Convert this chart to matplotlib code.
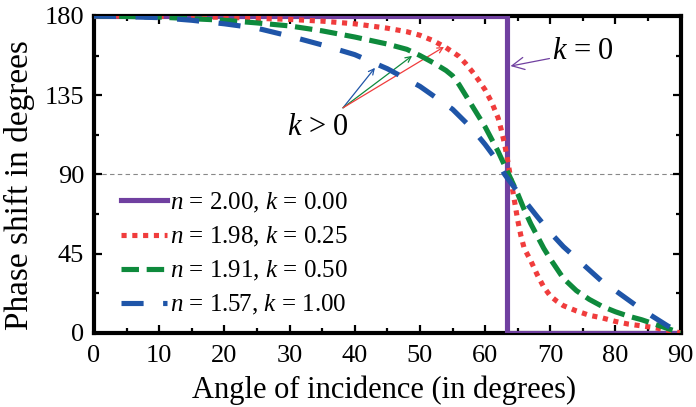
import matplotlib
matplotlib.use('Agg')
import matplotlib.pyplot as plt
from matplotlib.ticker import MultipleLocator

plt.rcParams['font.family'] = 'Liberation Serif'
plt.rcParams['mathtext.fontset'] = 'custom'
plt.rcParams['mathtext.rm'] = 'Liberation Serif'
plt.rcParams['mathtext.it'] = 'Liberation Serif:italic'

# values
ang_k0 = [0, 63.43, 63.43, 90]
ph_k0 = [180, 180, 0, 0]

ang_025 = [0, 10, 20, 30, 35, 40, 45, 48, 50, 52, 54, 56, 57, 58, 59, 60, 61, 62, 62.5,
           63, 63.5, 64, 64.5, 65, 65.5, 66, 67, 68, 69, 70, 71, 72, 74, 76, 78, 80, 82,
           84, 86, 88, 90]
ph_025 = [180, 179.7, 179.2, 178, 177, 175.5, 173, 171, 169, 166, 162, 157, 153, 148.5,
          143.5, 138, 131, 122, 115, 107, 97, 86, 75, 64, 55, 48, 41, 33, 26, 21, 18,
          15.5, 12.5, 10, 8.5, 6.5, 5, 4, 3, 1.5, 0]

ang_050 = [0, 10, 20, 25, 30, 35, 40, 45, 48, 50, 52, 54, 55, 56, 57, 58, 59, 60, 61, 62,
           63, 64, 65, 66, 67, 68, 69, 70, 72, 74, 76, 78, 80, 82, 84, 86, 88, 90]
ph_050 = [180, 179.3, 177.5, 176, 174.3, 171.5, 168, 164, 161, 157.5, 153.5, 149, 146,
          141, 135, 129, 123, 117, 110, 103, 95, 87, 79, 70, 62, 55, 48, 42, 31, 24, 19,
          15, 12, 9.5, 7.5, 5, 2.5, 0]

ang_100 = [0, 10, 15, 20, 25, 30, 35, 40, 45, 50, 55, 58, 60, 62, 63, 65, 68, 70, 72, 75,
           78, 80, 83, 85, 88, 90]
ph_100 = [180, 179, 177.5, 175.5, 173, 168.5, 163.5, 158, 150, 140, 127, 116, 107, 97,
          90, 80, 66, 57, 49, 39, 29, 24, 16, 11, 4, 0]

labels = ['$n$ = 2.00, $k$ = 0.00', '$n$ = 1.98, $k$ = 0.25',
          '$n$ = 1.91, $k$ = 0.50', '$n$ = 1.57, $k$ = 1.00']

fig = plt.figure(figsize=(6.96, 4.07), dpi=100)
ax = fig.add_axes([0.135, 0.182, 0.843, 0.779])

ax.axhline(90, color='#888888', lw=0.8, ls=(0, (4, 3)), zorder=1)

lw = 3.7
ax.plot(ang_k0, ph_k0, color='#7040A0', lw=lw, label=labels[0], zorder=3,
        solid_joinstyle='miter')
ax.plot(ang_025, ph_025, color='#F03C3C', lw=lw, ls=(0, (1.0, 1.1)), label=labels[1],
        zorder=4)
ax.plot(ang_050, ph_050, color='#0E8A3C', lw=lw, ls=(0, (3.4, 1.5)), label=labels[2],
        zorder=5)
ax.plot(ang_100, ph_100, color='#1F55A8', lw=lw, ls=(0, (4.3, 3.8)), label=labels[3],
        zorder=6)

# annotations
ax.annotate('$k$ = 0', xy=(63.9, 151.5), xytext=(70.3, 159.5), fontsize=22,
            va='center', ha='left',
            arrowprops=dict(arrowstyle='->', color='#7040A0', lw=0.9,
                            shrinkA=0, shrinkB=0))
ax.text(34.4, 116.5, '$k$ > 0', fontsize=22, ha='center', va='center')
for tip, c in [((43.1, 150.5), '#1F55A8'), ((48.8, 157.3), '#0E8A3C'),
               ((53.7, 162.4), '#F03C3C')]:
    ax.annotate('', xy=tip, xytext=(38.2, 127.8),
                arrowprops=dict(arrowstyle='->', color=c, lw=0.9,
                                shrinkA=0, shrinkB=0))

ax.set_xlim(0, 90)
ax.set_ylim(0, 180)
ax.xaxis.set_major_locator(MultipleLocator(10))
ax.xaxis.set_minor_locator(MultipleLocator(5))
ax.yaxis.set_major_locator(MultipleLocator(45))
ax.yaxis.set_minor_locator(MultipleLocator(22.5))
ax.tick_params(which='both', direction='in', top=True, right=True, width=1.6,
               labelsize=19)
ax.tick_params(axis='x', pad=9)
ax.tick_params(axis='y', pad=7)
ax.tick_params(which='major', length=6)
ax.tick_params(which='minor', length=3.5)
for s in ax.spines.values():
    s.set_linewidth(3)

ax.set_xlabel('Angle of incidence (in degrees)', fontsize=22)
ax.set_ylabel('Phase shift in degrees', fontsize=24)
ax.xaxis.set_label_coords(0.494, -0.135)
ax.yaxis.set_label_coords(-0.1, 0.465)

ax.legend(loc='lower left', bbox_to_anchor=(0.016, -0.005), frameon=False, fontsize=18,
          handlelength=1.85, handletextpad=0.1, labelspacing=0.4, borderaxespad=0.3)

fig.savefig('out.png', dpi=100)
